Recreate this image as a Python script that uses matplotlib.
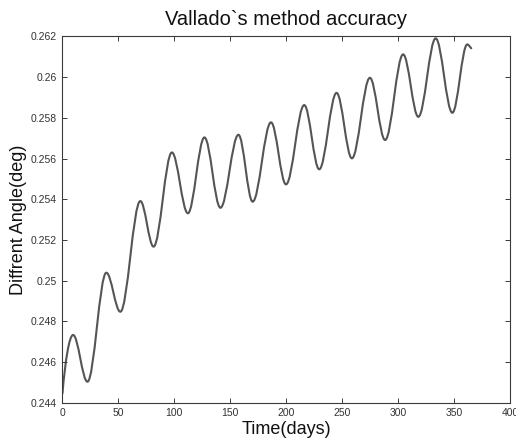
import matplotlib
matplotlib.use("Agg")
import matplotlib.pyplot as plt
from matplotlib.path import Path
from matplotlib.patches import PathPatch
from matplotlib.ticker import FuncFormatter

plt.rcParams['font.family'] = ['Liberation Sans', 'DejaVu Sans']

# Turning points of the angle error curve (start, alternating peaks/troughs, end)
time_days = [0, 9.5, 22.3, 39.2, 51.7, 69.6, 81.4, 97.8, 112.1, 126.9, 141.2,
             157.3, 170.0, 186.4, 199.8, 216.1, 229.5, 245.0, 258.7, 274.8,
             288.4, 304.5, 318.1, 333.6, 348.5, 361.8, 365.4]
angle_deg = [0.24446, 0.24733, 0.24503, 0.25039, 0.24847, 0.25391, 0.25167,
             0.25630, 0.25331, 0.25704, 0.25358, 0.25717, 0.25388, 0.25778,
             0.25473, 0.25863, 0.25547, 0.25923, 0.25601, 0.25997, 0.25691,
             0.26112, 0.25805, 0.26191, 0.25825, 0.26161, 0.26142]

x_ticks = [0, 50, 100, 150, 200, 250, 300, 350, 400]
y_ticks = [0.244, 0.246, 0.248, 0.25, 0.252, 0.254, 0.256, 0.258, 0.26, 0.262]

line_color = '#555555'
axis_color = '#3a3a3a'

fig = plt.figure(figsize=(5.16, 4.46), dpi=100)
ax = fig.add_axes([0.1211, 0.0971, 0.8672, 0.8211])

# Smooth curve through the turning points using cubic Bezier segments
verts = [(time_days[0], angle_deg[0])]
codes = [Path.MOVETO]
n = len(time_days)
k = 0.36
for i in range(n - 1):
    t0, y0 = time_days[i], angle_deg[i]
    t1, y1 = time_days[i + 1], angle_deg[i + 1]
    dt = t1 - t0
    if i == 0:
        c1 = (t0 + 0.25 * dt, y0 + 0.55 * (y1 - y0))
    else:
        c1 = (t0 + k * dt, y0)
    if i == n - 2:
        c2 = (t1 - 0.3 * dt, y1 + 0.3 * (y0 - y1))
    else:
        c2 = (t1 - k * dt, y1)
    verts += [c1, c2, (t1, y1)]
    codes += [Path.CURVE4, Path.CURVE4, Path.CURVE4]

curve = PathPatch(Path(verts, codes), facecolor='none', edgecolor=line_color,
                  lw=1.5, capstyle='round', joinstyle='round',
                  transform=ax.transData)
ax.add_patch(curve)

ax.set_xlim(0, 400)
ax.set_ylim(0.244, 0.262)
ax.set_xticks(x_ticks)
ax.set_yticks(y_ticks)
ax.yaxis.set_major_formatter(FuncFormatter(lambda v, p: '%g' % round(v, 4)))

for side in ['left', 'right', 'top', 'bottom']:
    ax.spines[side].set_color(axis_color)
    ax.spines[side].set_linewidth(0.8)

ax.tick_params(direction='in', top=True, right=True, length=3.5, width=0.7,
               color=axis_color, labelcolor='#333333', labelsize=7.5, pad=4)

ax.set_title('Vallado`s method accuracy', fontsize=14.5, color='#111111', pad=8)
ax.set_xlabel('Time(days)', fontsize=13, color='#111111', labelpad=2)
ax.set_ylabel('Diffrent Angle(deg)', fontsize=13, color='#111111', labelpad=3)

fig.savefig('out.png', dpi=100)
